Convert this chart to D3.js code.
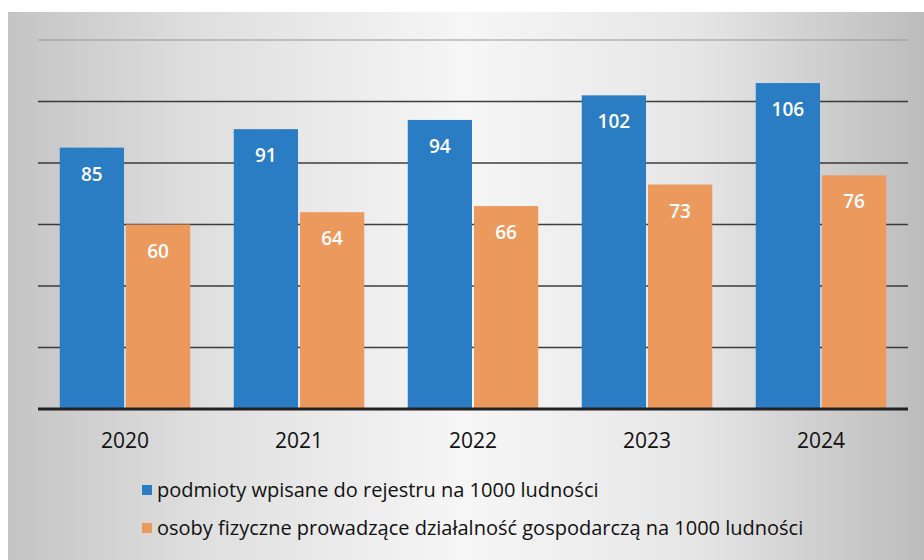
<!DOCTYPE html>
<html>
<head>
<meta charset="utf-8">
<script src="https://cdn.jsdelivr.net/npm/d3@7"></script>
<style>
	body { margin: 0; background: #fff; }
	text { font-family: "Open Sans", "Noto Sans", sans-serif; }
</style>
</head>
<body>
<div id="chart"></div>
<script>
// Data
var years = ['2020', '2021', '2022', '2023', '2024'];
var seriesNames = [
	'podmioty wpisane do rejestru na 1000 ludności',
	'osoby fizyczne prowadzące działalność gospodarczą na 1000 ludności'
];
var podmioty = [85, 91, 94, 102, 106];
var osoby = [60, 64, 66, 73, 76];
var yTicks = [0, 20, 40, 60, 80, 100, 120];

var width = 924,
	height = 560,
	margin = {top: 40, right: 16, bottom: 151, left: 38},
	colors = ['#2a7cc3', '#ec995e'];

var svg = d3.select('#chart').append('svg')
	.attr('width', width)
	.attr('height', height);

// Background panel with a soft grey gradient
var defs = svg.append('defs');
var grad = defs.append('linearGradient')
	.attr('id', 'bg')
	.attr('x1', '0%').attr('x2', '100%').attr('y1', '0%').attr('y2', '0%');
grad.append('stop').attr('offset', '0%').attr('stop-color', '#c4c4c4');
grad.append('stop').attr('offset', '20%').attr('stop-color', '#dedede');
grad.append('stop').attr('offset', '50%').attr('stop-color', '#f6f6f6');
grad.append('stop').attr('offset', '75%').attr('stop-color', '#e6e6e6');
grad.append('stop').attr('offset', '100%').attr('stop-color', '#bcbcbc');

svg.append('rect')
	.attr('x', 8).attr('y', 12)
	.attr('width', width - 8).attr('height', height - 12)
	.attr('fill', 'url(#bg)');

// Scales
var x0 = d3.scaleBand()
	.domain(years)
	.range([margin.left, width - margin.right])
	.paddingInner(0.25)
	.paddingOuter(0.125);

var x1 = d3.scaleBand()
	.domain([0, 1])
	.range([0, x0.bandwidth()])
	.paddingInner(0.03);

var y = d3.scaleLinear()
	.domain([0, 120])
	.range([height - margin.bottom, margin.top]);

// Gridlines
svg.append('g').attr('class', 'grid')
	.selectAll('line')
	.data(yTicks.filter(function(d) { return d > 0; }))
	.enter().append('line')
	.attr('x1', margin.left)
	.attr('x2', width - margin.right)
	.attr('y1', function(d) { return y(d); })
	.attr('y2', function(d) { return y(d); })
	.attr('stroke', function(d) { return d === 120 ? '#9a9a9a' : '#2a2a2a'; })
	.attr('stroke-opacity', function(d) { return d === 120 ? 0.7 : 0.9; })
	.attr('stroke-width', 1.6);

// Bars
var rows = years.map(function(yr, i) {
	return {year: yr, values: [podmioty[i], osoby[i]]};
});

var groups = svg.append('g').selectAll('g')
	.data(rows)
	.enter().append('g')
	.attr('transform', function(d) { return 'translate(' + x0(d.year) + ',0)'; });

var cells = groups.selectAll('g')
	.data(function(d) { return d.values.map(function(v, k) { return {k: k, v: v}; }); })
	.enter().append('g');

cells.append('rect')
	.attr('x', function(d) { return x1(d.k); })
	.attr('width', x1.bandwidth())
	.attr('y', function(d) { return y(d.v); })
	.attr('height', function(d) { return y(0) - y(d.v); })
	.attr('fill', function(d) { return colors[d.k]; });

cells.append('text')
	.attr('x', function(d) { return x1(d.k) + x1.bandwidth() / 2; })
	.attr('y', function(d) { return y(d.v) + 33; })
	.attr('text-anchor', 'middle')
	.attr('fill', '#fff')
	.style('font-size', '19px')
	.style('font-weight', 600)
	.text(function(d) { return d.v; });

// Baseline
svg.append('line')
	.attr('x1', margin.left)
	.attr('x2', width - margin.right)
	.attr('y1', y(0))
	.attr('y2', y(0))
	.attr('stroke', '#222')
	.attr('stroke-width', 3);

// Year labels
svg.append('g').selectAll('text')
	.data(years)
	.enter().append('text')
	.attr('x', function(d) { return x0(d) + x0.bandwidth() / 2; })
	.attr('y', 448)
	.attr('text-anchor', 'middle')
	.attr('fill', '#111')
	.style('font-size', '21px')
	.text(function(d) { return d; });

// Legend
var legend = svg.append('g').selectAll('g')
	.data(seriesNames)
	.enter().append('g')
	.attr('transform', function(d, i) { return 'translate(142,' + (485 + i * 38) + ')'; });

legend.append('rect')
	.attr('width', 10).attr('height', 10)
	.attr('fill', function(d, i) { return colors[i]; });

legend.append('text')
	.attr('x', 15)
	.attr('y', 12)
	.attr('fill', '#111')
	.style('font-size', '20px')
	.text(function(d) { return d; });
</script>
</body>
</html>
